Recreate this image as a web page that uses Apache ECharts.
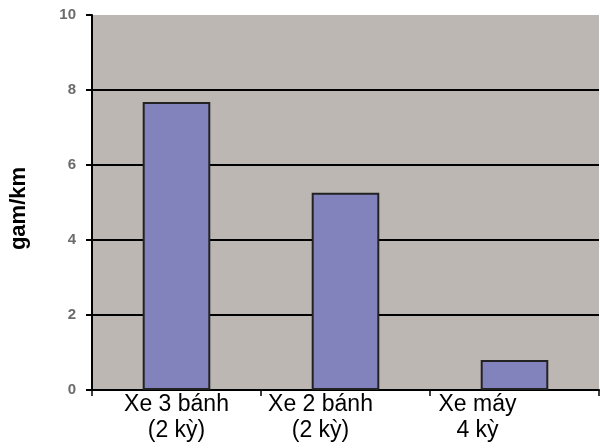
<!DOCTYPE html>
<html>
<head>
<meta charset="utf-8">
<script src="https://cdn.jsdelivr.net/npm/echarts@6/dist/echarts.min.js"></script>
<style>
  html, body { margin: 0; padding: 0; background: #ffffff; }
  #chart { width: 600px; height: 448px; }
</style>
</head>
<body>
<div id="chart"></div>
<script>
// Emissions per kilometre by vehicle type
const categories = ['Xe 3 bánh\n(2 kỳ)', 'Xe 2 bánh\n(2 kỳ)', 'Xe máy\n4 kỳ'];
const values = [7.68, 5.26, 0.8];
const yAxisName = 'gam/km';
const yMin = 0;
const yMax = 10;
const yStep = 2;

// Labels sit toward the left of their slot, as in a wrapped spreadsheet label
const labelShift = [0, 50, 74];

const FONT = '"Liberation Sans", Arial, sans-serif';

const chart = echarts.init(document.getElementById('chart'), null, { renderer: 'canvas' });

chart.setOption({
  animation: false,
  backgroundColor: '#ffffff',
  grid: {
    left: 89, right: 1, top: 15, bottom: 58,
    show: true,
    backgroundColor: '#bdb7b3',
    borderWidth: 0
  },
  xAxis: {
    type: 'category',
    data: categories.map((c, i) => ({
      value: c,
      textStyle: { padding: [0, labelShift[i], 0, 0] }
    })),
    axisLine: { show: true, lineStyle: { color: '#000000', width: 2 } },
    axisTick: { show: true, length: 6, lineStyle: { color: '#000000', width: 1.5 } },
    axisLabel: {
      color: '#000000',
      fontFamily: FONT,
      fontSize: 23,
      lineHeight: 26,
      margin: 2,
      interval: 0
    },
    splitLine: { show: false }
  },
  yAxis: {
    type: 'value',
    min: yMin,
    max: yMax,
    interval: yStep,
    name: yAxisName,
    nameLocation: 'middle',
    nameRotate: 90,
    nameGap: 62,
    nameTextStyle: {
      color: '#000000',
      fontFamily: FONT,
      fontSize: 22,
      fontWeight: 'bold',
      padding: [0, 12, 0, 0]
    },
    axisLine: { show: true, lineStyle: { color: '#000000', width: 2 } },
    axisTick: { show: true, length: 6, lineStyle: { color: '#000000', width: 2 } },
    axisLabel: {
      color: '#6b6b6b',
      fontFamily: FONT,
      fontSize: 15,
      fontWeight: 'bold',
      margin: 16
    },
    splitLine: {
      show: true,
      lineStyle: {
        color: ['#000000', '#000000', '#000000', '#000000', '#000000', 'rgba(0,0,0,0)'],
        width: 2
      }
    }
  },
  series: [{
    type: 'bar',
    data: values,
    barWidth: '40%',
    itemStyle: {
      color: '#8282bc',
      borderColor: '#222222',
      borderWidth: 2
    }
  }]
});
</script>
</body>
</html>
